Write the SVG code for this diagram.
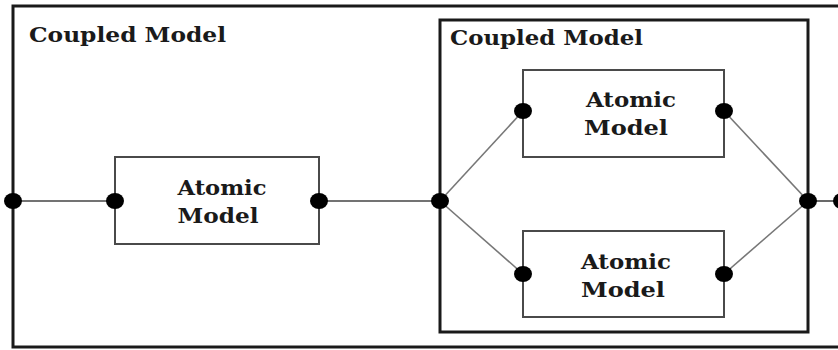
<svg xmlns="http://www.w3.org/2000/svg" width="838" height="350" viewBox="0 0 838 350">
<style>
.coupled{fill:none;stroke:#1a1a1a;stroke-width:3}
.atomic{fill:#fff;stroke:#4a4a4a;stroke-width:2}
.t{font-family:"DejaVu Serif","Liberation Serif",serif;font-weight:bold;font-size:20px;fill:#1a1a1a}
.ta{font-family:"DejaVu Serif","Liberation Serif",serif;font-weight:bold;font-size:21px;fill:#1a1a1a;text-anchor:middle}
.c{stroke:#444;stroke-width:1.6;fill:none}
.c2{stroke:#777;stroke-width:1.6;fill:none}
.port{fill:#000}
</style>
<rect width="838" height="350" fill="#fff"/>
<g id="outer">
<rect class="coupled" x="13" y="6" width="840" height="341"/>
<text class="t" x="29" y="42" textLength="197" lengthAdjust="spacingAndGlyphs">Coupled Model</text>
</g>
<g id="inner">
<rect class="coupled" x="440" y="20" width="368" height="312"/>
<text class="t" x="450" y="45" textLength="193" lengthAdjust="spacingAndGlyphs">Coupled Model</text>
</g>
<g id="connectors">
<line class="c" x1="13" y1="201" x2="115" y2="201"/>
<line class="c" x1="319" y1="201" x2="440" y2="201"/>
<line class="c2" x1="440" y1="201" x2="523" y2="111"/>
<line class="c2" x1="440" y1="201" x2="523" y2="274"/>
<line class="c2" x1="724" y1="111" x2="808" y2="201"/>
<line class="c2" x1="724" y1="274" x2="808" y2="201"/>
<line class="c" x1="808" y1="201" x2="840" y2="201"/>
</g>
<g id="atomic1">
<rect class="atomic" x="115" y="157" width="204" height="87"/>
<text class="ta" x="222" y="195" textLength="89" lengthAdjust="spacingAndGlyphs">Atomic</text>
<text class="ta" x="218" y="223" textLength="81" lengthAdjust="spacingAndGlyphs">Model</text>
</g>
<g id="atomic2">
<rect class="atomic" x="523" y="70" width="201" height="87"/>
<text class="ta" x="631" y="107" textLength="90" lengthAdjust="spacingAndGlyphs">Atomic</text>
<text class="ta" x="626" y="135" textLength="84" lengthAdjust="spacingAndGlyphs">Model</text>
</g>
<g id="atomic3">
<rect class="atomic" x="523" y="231" width="201" height="86"/>
<text class="ta" x="626" y="269" textLength="90" lengthAdjust="spacingAndGlyphs">Atomic</text>
<text class="ta" x="623" y="297" textLength="84" lengthAdjust="spacingAndGlyphs">Model</text>
</g>
<g id="ports">
<ellipse class="port" cx="13" cy="201" rx="9" ry="8"/>
<ellipse class="port" cx="115" cy="201" rx="9" ry="8"/>
<ellipse class="port" cx="319" cy="201" rx="9" ry="8"/>
<ellipse class="port" cx="440" cy="201" rx="9" ry="8"/>
<ellipse class="port" cx="523" cy="111" rx="9" ry="8"/>
<ellipse class="port" cx="724" cy="111" rx="9" ry="8"/>
<ellipse class="port" cx="523" cy="274" rx="9" ry="8"/>
<ellipse class="port" cx="724" cy="274" rx="9" ry="8"/>
<ellipse class="port" cx="808" cy="201" rx="9" ry="8"/>
<ellipse class="port" cx="842" cy="201" rx="9" ry="8"/>
</g>
</svg>
